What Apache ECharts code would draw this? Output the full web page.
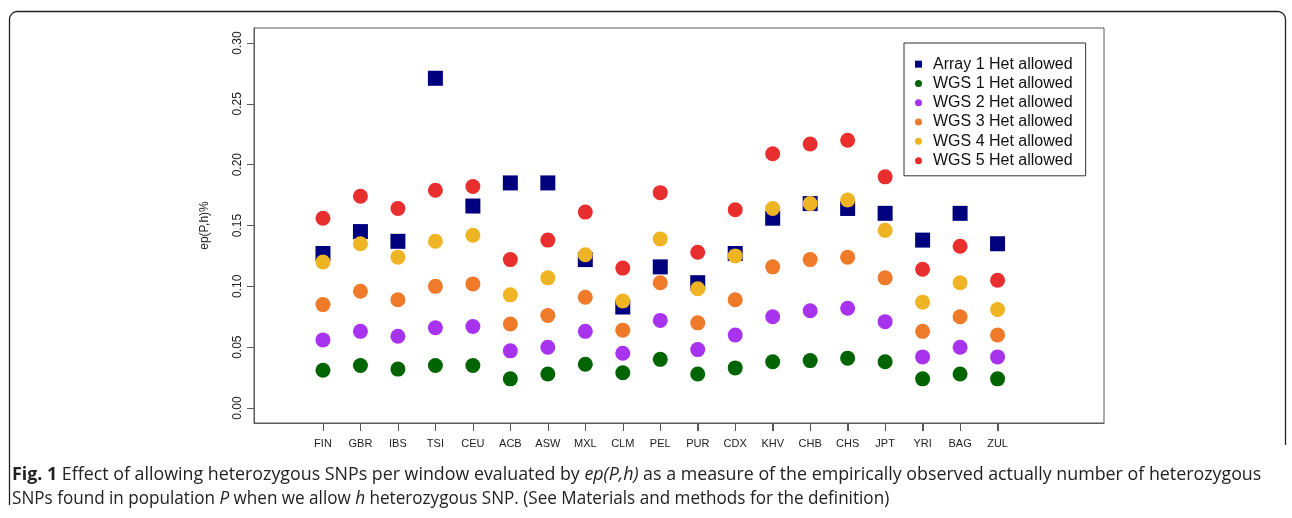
<!DOCTYPE html>
<html>
<head>
<meta charset="utf-8">
<script src="https://cdn.jsdelivr.net/npm/echarts@6/dist/echarts.min.js"></script>
<style>
html,body{margin:0;padding:0;background:#fff;}
#c{width:1292px;height:518px;}
</style>
</head>
<body>
<div id="c"></div>
<script>
const categories = ['FIN','GBR','IBS','TSI','CEU','ACB','ASW','MXL','CLM','PEL','PUR','CDX','KHV','CHB','CHS','JPT','YRI','BAG','ZUL'];
const yTicks = [0, 0.05, 0.10, 0.15, 0.20, 0.25, 0.30];
const array1 = [0.127, 0.145, 0.137, 0.271, 0.166, 0.185, 0.185, 0.122, 0.083, 0.116, 0.103, 0.127, 0.156, 0.168, 0.164, 0.160, 0.138, 0.160, 0.135];
const wgs1 = [0.031, 0.035, 0.032, 0.035, 0.035, 0.024, 0.028, 0.036, 0.029, 0.040, 0.028, 0.033, 0.038, 0.039, 0.041, 0.038, 0.024, 0.028, 0.024];
const wgs2 = [0.056, 0.063, 0.059, 0.066, 0.067, 0.047, 0.050, 0.063, 0.045, 0.072, 0.048, 0.060, 0.075, 0.080, 0.082, 0.071, 0.042, 0.050, 0.042];
const wgs3 = [0.085, 0.096, 0.089, 0.100, 0.102, 0.069, 0.076, 0.091, 0.064, 0.103, 0.070, 0.089, 0.116, 0.122, 0.124, 0.107, 0.063, 0.075, 0.060];
const wgs4 = [0.120, 0.135, 0.124, 0.137, 0.142, 0.093, 0.107, 0.126, 0.088, 0.139, 0.098, 0.125, 0.164, 0.168, 0.171, 0.146, 0.087, 0.103, 0.081];
const wgs5 = [0.156, 0.174, 0.164, 0.179, 0.182, 0.122, 0.138, 0.161, 0.115, 0.177, 0.128, 0.163, 0.209, 0.217, 0.220, 0.190, 0.114, 0.133, 0.105];
const seriesNames = ['Array 1 Het allowed','WGS 1 Het allowed','WGS 2 Het allowed','WGS 3 Het allowed','WGS 4 Het allowed','WGS 5 Het allowed'];
const seriesValues = [array1, wgs1, wgs2, wgs3, wgs4, wgs5];
const colors = ['#00007F','#006400','#A733EE','#EE7A2A','#EFB424','#E92E2E'];

const FONT = "'Liberation Sans', Arial, Helvetica, sans-serif";
const CAPFONT = "'Open Sans', sans-serif";
const AXC = '#5a5a5a';
const X_MIN = -0.84, X_MAX = 21.84, Y_MIN = -0.0123, Y_MAX = 0.3123;
const xPos = categories.map((c, i) => i + 1);

// rounded outer frame outline (decoration)
function cornerPts(cx, cy, r, a0, a1) {
  const pts = [];
  for (let k = 0; k <= 8; k++) {
    const a = a0 + (a1 - a0) * k / 8;
    pts.push([cx + r * Math.cos(a), cy + r * Math.sin(a)]);
  }
  return pts;
}
const R = 8, L = 9.5, T = 11.5, RR = 1285.5;
const framePts = [[L, 505]]
  .concat(cornerPts(L + R, T + R, R, Math.PI, 1.5 * Math.PI))
  .concat(cornerPts(RR - R, T + R, R, 1.5 * Math.PI, 2 * Math.PI))
  .concat([[RR, 445]]);

const chart = echarts.init(document.getElementById('c'), null, {renderer: 'canvas'});

const series = seriesValues.map((vals, k) => ({
  name: seriesNames[k],
  type: 'scatter',
  symbol: k === 0 ? 'rect' : 'circle',
  symbolSize: 15,
  itemStyle: {color: colors[k], opacity: 1},
  emphasis: {disabled: true},
  z: 2 + k,
  data: vals.map((v, i) => [xPos[i], v])
}));

const baseGraphic = [
  {
    id: 'frame',
    type: 'polyline',
    silent: true,
    shape: {points: framePts},
    style: {stroke: '#222', lineWidth: 1.3, fill: null}
  },
  {
    id: 'cap1',
    type: 'text', x: 12, y: 466, scaleX: 0.99, silent: true,
    style: {
      text: '{b|Fig. 1} Effect of allowing heterozygous SNPs per window evaluated by {i|ep(P,h)} as a measure of the empirically observed actually number of heterozygous',
      font: "18px " + CAPFONT, fill: '#222',
      rich: {
        b: {font: "bold 18px " + CAPFONT, fill: '#222'},
        i: {font: "italic 18px " + CAPFONT, fill: '#222'}
      }
    }
  },
  {
    id: 'cap2',
    type: 'text', x: 12, y: 490, scaleX: 0.95, silent: true,
    style: {
      text: 'SNPs found in population {i|P} when we allow {i|h} heterozygous SNP. (See Materials and methods for the definition)',
      font: "18px " + CAPFONT, fill: '#222',
      rich: {
        i: {font: "italic 18px " + CAPFONT, fill: '#222'}
      }
    }
  }
];

const option = {
  animation: false,
  backgroundColor: '#fff',
  grid: {left: 254, right: 188, top: 28, bottom: 95, show: true, borderColor: AXC, borderWidth: 1, backgroundColor: 'transparent'},
  xAxis: {
    type: 'value', min: X_MIN, max: X_MAX,
    axisLine: {show: true, onZero: false, lineStyle: {color: AXC, width: 1}},
    splitLine: {show: false},
    axisTick: {show: true, inside: false, customValues: xPos, length: 8, lineStyle: {color: AXC, width: 1}},
    axisLabel: {show: true, customValues: xPos, margin: 15, fontSize: 11, fontFamily: FONT, color: '#222',
      formatter: v => categories[Math.round(v) - 1] || ''}
  },
  yAxis: {
    type: 'value', min: Y_MIN, max: Y_MAX,
    name: 'ep(P,h)%', nameLocation: 'middle', nameRotate: 90, nameGap: 43,
    nameTextStyle: {fontSize: 12, fontFamily: FONT, color: '#222'},
    axisLine: {show: true, onZero: false, lineStyle: {color: AXC, width: 1}},
    splitLine: {show: false},
    axisTick: {show: true, inside: false, customValues: yTicks, length: 7, lineStyle: {color: AXC, width: 1}},
    axisLabel: {show: true, customValues: yTicks, rotate: 90, margin: 10, fontSize: 12, fontFamily: FONT, color: '#222',
      formatter: v => v.toFixed(2)}
  },
  legend: {
    data: seriesNames,
    orient: 'vertical',
    left: 904, top: 43,
    padding: [13, 13, 7, 11],
    itemWidth: 7, itemHeight: 7,
    itemGap: 3,
    borderColor: '#333', borderWidth: 1,
    backgroundColor: '#fff',
    selectedMode: false,
    textStyle: {fontSize: 16, fontFamily: FONT, color: '#111', lineHeight: 16.3, padding: [0,0,0,6]}
  },
  graphic: baseGraphic,
  series: series
};
chart.setOption(option);

// x tick marks below the box, positioned through the chart's own x scale
const tickEls = xPos.map((x, i) => {
  const p = chart.convertToPixel({gridIndex: 0}, [x, Y_MIN]);
  const px = Math.round(p[0]) + 0.5;
  return {
    id: 'xtick' + i,
    type: 'line', silent: true, z: 50,
    shape: {x1: px, y1: p[1], x2: px, y2: p[1] + 8},
    style: {stroke: '#555', lineWidth: 1}
  };
});
chart.setOption({graphic: baseGraphic.concat(tickEls)});
</script>
</body>
</html>
